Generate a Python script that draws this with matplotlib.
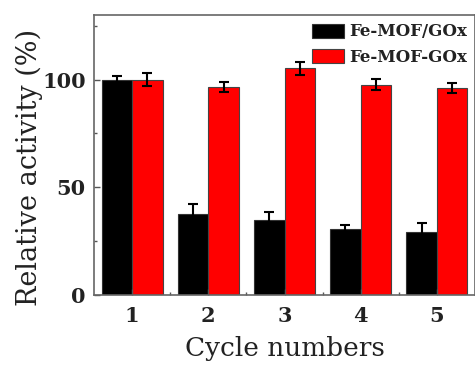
import matplotlib
matplotlib.use("Agg")
import matplotlib.pyplot as plt
import numpy as np
from matplotlib.ticker import MultipleLocator

cycles = ["1", "2", "3", "4", "5"]
mof_slash = [100, 37.8, 35.0, 30.5, 29.3]
mof_slash_err = [1.5, 4.5, 3.6, 2.0, 4.2]
mof_dash = [100, 96.4, 105.2, 97.7, 96.1]
mof_dash_err = [3.0, 2.3, 3.0, 2.6, 2.3]
labels = ["Fe-MOF/GOx", "Fe-MOF-GOx"]

fig = plt.figure(figsize=(4.75, 3.65), dpi=100)
ax = fig.add_axes([94/475, 1-295/365, 1-94/475, (295-15)/365])

x = np.arange(1, len(cycles)+1)
w = 0.4
ax.bar(x - w/2, mof_slash, w, color="black", edgecolor="#333333", linewidth=0.8,
       yerr=mof_slash_err, error_kw=dict(ecolor="black", elinewidth=1.5, capsize=3.5, capthick=1.5),
       label=labels[0])
ax.bar(x + w/2, mof_dash, w, color="#ff0000", edgecolor="#444444", linewidth=0.8,
       yerr=mof_dash_err, error_kw=dict(ecolor="black", elinewidth=1.5, capsize=3.5, capthick=1.5),
       label=labels[1])

ax.set_xlim(0.5, 5.5)
ax.set_ylim(0, 130)
ax.set_xticks(x)
ax.set_xticklabels(cycles)
ax.set_yticks([0, 50, 100])
ax.yaxis.set_minor_locator(MultipleLocator(25))
ax.set_xticks([1.5, 2.5, 3.5, 4.5], minor=True)
ax.tick_params(which="both", direction="in", colors="#555555", labelcolor="#222222")
ax.tick_params(which="major", length=4, width=1)
ax.tick_params(which="minor", length=2, width=1)
ax.tick_params(axis="x", which="major", pad=8)
ax.tick_params(axis="y", which="major", pad=6)
for lab in ax.get_xticklabels() + ax.get_yticklabels():
    lab.set_fontfamily("DejaVu Serif")
    lab.set_fontweight("bold")
    lab.set_fontsize(15)
for s in ax.spines.values():
    s.set_color("#666666")
    s.set_linewidth(1.2)

ax.set_xlabel("Cycle numbers", fontfamily="DejaVu Serif", fontsize=19, color="#222222", labelpad=7)
ax.set_ylabel("Relative activity (%)", fontfamily="DejaVu Serif", fontsize=19.5, color="#222222")
ax.yaxis.set_label_coords(-0.134, 0.457)

leg = ax.legend(loc="upper right", frameon=False, prop=dict(family="DejaVu Serif", weight="bold", size=12),
                handlelength=1.9, handleheight=0.9, handletextpad=0.3, labelspacing=0.5,
                borderaxespad=0.1, borderpad=0.4)
for t in leg.get_texts():
    t.set_color("#222222")

fig.savefig("out.png", dpi=100)
